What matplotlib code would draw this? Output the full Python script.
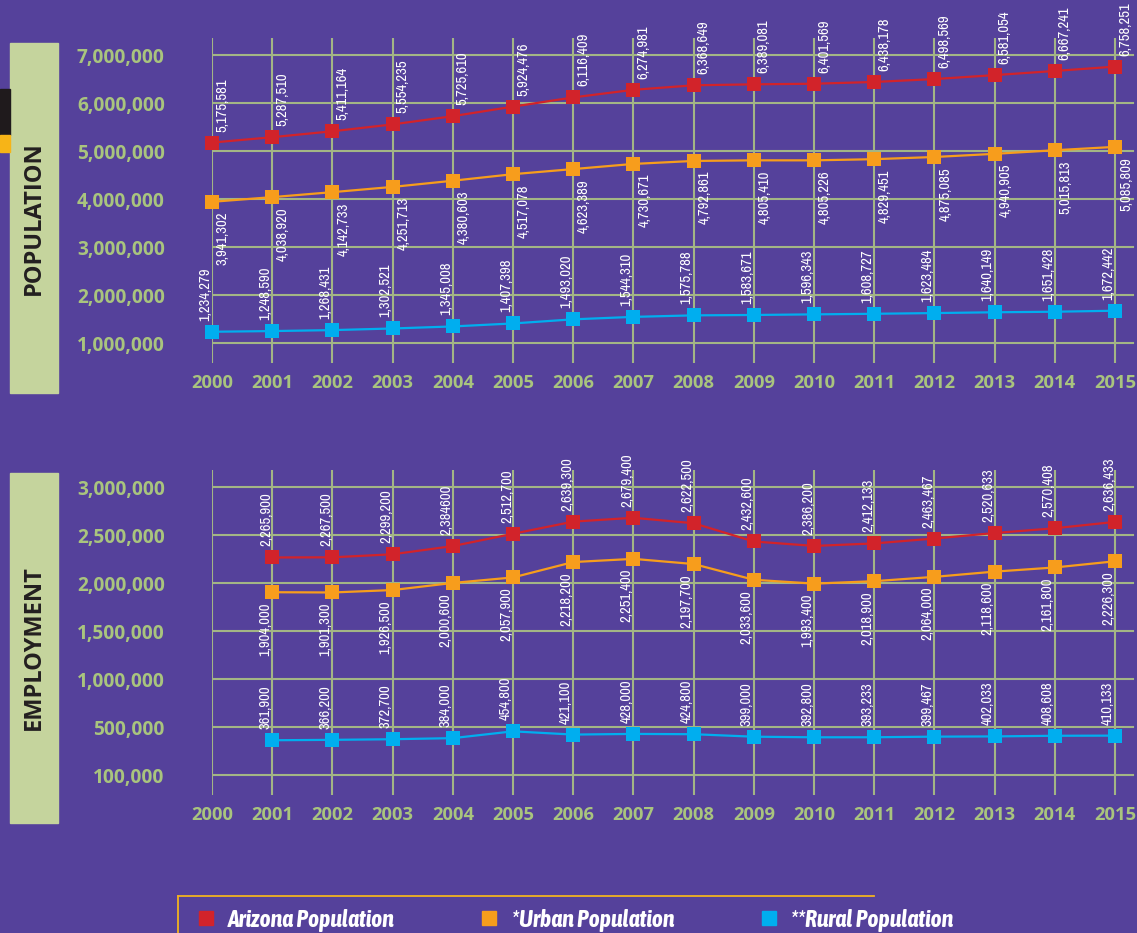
import matplotlib
matplotlib.use("Agg")
import matplotlib.pyplot as plt
from matplotlib import font_manager
from matplotlib.lines import Line2D
from matplotlib.patches import Rectangle

# ---- data ----
pop_years = list(range(2000, 2016))
pop_arizona = [5175581, 5287510, 5411164, 5554235, 5725610, 5924476, 6116409, 6274981,
               6368649, 6389081, 6401569, 6438178, 6498569, 6581054, 6667241, 6758251]
pop_urban = [3941302, 4038920, 4142733, 4251713, 4380603, 4517078, 4623389, 4730671,
             4792861, 4805410, 4805226, 4829451, 4875085, 4940905, 5015813, 5085809]
pop_rural = [1234279, 1248590, 1268431, 1302521, 1345008, 1407398, 1493020, 1544310,
             1575788, 1583671, 1596343, 1608727, 1623484, 1640149, 1651428, 1672442]
pop_ticks = [1000000, 2000000, 3000000, 4000000, 5000000, 6000000, 7000000]

emp_years = list(range(2001, 2016))
emp_arizona = [2265900, 2267500, 2299200, 2384600, 2512700, 2639300, 2679400, 2622500,
               2432600, 2386200, 2412133, 2463467, 2520633, 2570408, 2636433]
emp_urban = [1904000, 1901300, 1926500, 2000600, 2057900, 2218200, 2251400, 2197700,
             2033600, 1993400, 2018900, 2064000, 2118600, 2161800, 2226300]
emp_rural = [361900, 366200, 372700, 384000, 454800, 421100, 428000, 424800,
             399000, 392800, 393233, 399467, 402033, 408608, 410133]
emp_ticks = [0, 500000, 1000000, 1500000, 2000000, 2500000, 3000000]
emp_tick_labels = ["100,000", "500,000", "1,000,000", "1,500,000", "2,000,000",
                   "2,500,000", "3,000,000"]
emp_label_fix = {2384600: "2,384600"}  # as printed in the source

series_names = ["Arizona Population", "*Urban Population", "**Rural Population"]

# ---- style ----
BG = "#55419b"
GRID = "#a3b585"
TICK = "#a9c47e"
BOX = "#c5d49d"
COLORS = ["#d2232a", "#f79d1c", "#00aeef"]
W, H = 1137, 933
TICK_FONT = ["Open Sans", "DejaVu Sans"]

# prefer a narrow face for the value labels if one is installed
fonts = font_manager.fontManager.ttflist
narrow = sorted({f.name for f in fonts if "Narrow" in f.name or "Condensed" in f.name},
                key=lambda n: ("Narrow" not in n, n))
if narrow:
    LABEL_FONT = [narrow[0], "DejaVu Sans"]
    LABEL_SIZE = 10.5
else:
    LABEL_FONT = ["Liberation Sans", "DejaVu Sans"]
    LABEL_SIZE = 9

# legend: bold italic, narrow if such a face exists
bold_italic_narrow = [n for n in narrow
                      if any(f.name == n and f.weight in (700, "bold") and f.style == "italic"
                             for f in fonts)]
if bold_italic_narrow:
    LEGEND_FONT, LEGEND_SIZE = [bold_italic_narrow[0], "DejaVu Sans"], 17
    LEG_X, LEG_PAD, LEG_COL = 175, 0.55, 3.6
else:
    LEGEND_FONT, LEGEND_SIZE = ["Liberation Sans", "DejaVu Sans"], 13.4
    LEG_X, LEG_PAD, LEG_COL = 182, 0.75, 5.0

fig = plt.figure(figsize=(W / 100, H / 100), dpi=100)
fig.patch.set_facecolor(BG)


def px_axes(left, top, right, bottom):
    return fig.add_axes([left / W, 1 - bottom / H, (right - left) / W, (bottom - top) / H])


def setup_axes(ax, ticks, tick_labels, ylim):
    ax.set_facecolor("none")
    ax.set_xlim(2000, 2000 + 925 / 60.2)
    ax.set_ylim(*ylim)
    for s in ax.spines.values():
        s.set_visible(False)
    for y in ticks:
        ax.axhline(y, xmin=0, xmax=0.996, color=GRID, lw=1.5, zorder=1)
    for yr in pop_years:
        ax.axvline(yr, color=GRID, lw=1.5, zorder=1)
    ax.set_yticks(ticks)
    ax.set_yticklabels(tick_labels)
    ax.set_xticks(pop_years)
    ax.set_xticklabels([str(y) for y in pop_years])
    ax.tick_params(axis="y", length=0, pad=34, labelcolor=TICK, labelsize=13.8)
    ax.tick_params(axis="x", length=0, pad=8, labelcolor=TICK, labelsize=13.2)
    for t in ax.get_xticklabels() + ax.get_yticklabels():
        t.set_fontfamily(TICK_FONT)
        t.set_fontweight("bold")


def draw_series(ax, years, values, color, dx, above, fix=None):
    ax.plot(years, values, color=color, lw=1.6, marker="s", markersize=10,
            markeredgewidth=0, zorder=3, clip_on=False)
    for x, v in zip(years, values):
        txt = (fix or {}).get(v, f"{v:,}")
        ax.annotate(txt, (x, v), xytext=(dx, 11 if above else -10),
                    textcoords="offset pixels", rotation=90, ha="center",
                    va="bottom" if above else "top", color="white",
                    fontsize=LABEL_SIZE, family=LABEL_FONT, zorder=4)


# ---- population panel ----
ax1 = px_axes(212, 38, 1137, 363)
setup_axes(ax1, pop_ticks, [f"{t:,}" for t in pop_ticks],
           (1e6 - 20 / 48 * 1e6, 1e6 + 305 / 48 * 1e6))
draw_series(ax1, pop_years, pop_arizona, COLORS[0], 10, True)
draw_series(ax1, pop_years, pop_urban, COLORS[1], 11, False)
draw_series(ax1, pop_years, pop_rural, COLORS[2], -7, True)

# ---- employment panel ----
ax2 = px_axes(212, 470, 1137, 795)
setup_axes(ax2, emp_ticks, emp_tick_labels, (-20 / 48 * 5e5, 305 / 48 * 5e5))
draw_series(ax2, emp_years, emp_arizona, COLORS[0], -6, True, emp_label_fix)
draw_series(ax2, emp_years, emp_urban, COLORS[1], -7, False)
draw_series(ax2, emp_years, emp_rural, COLORS[2], -7, True)

# ---- side boxes ----
for top, bottom, title in [(43, 393, "POPULATION"), (473, 823, "EMPLOYMENT")]:
    fig.patches.append(Rectangle((10 / W, 1 - bottom / H), 48 / W, (bottom - top) / H,
                                 transform=fig.transFigure, color=BOX, zorder=0))
    fig.text(34 / W, 1 - (top + 175) / H, title, rotation=90, ha="center", va="center",
             fontsize=17, fontweight="bold", color="#231f20", family=TICK_FONT)
fig.patches.append(Rectangle((0, 1 - 135 / H), 10 / W, 46 / H, transform=fig.transFigure,
                             color="#1f1a1c", zorder=0))
fig.patches.append(Rectangle((0, 1 - 152 / H), 10 / W, 17 / H, transform=fig.transFigure,
                             color="#f7b417", zorder=0))

# ---- legend ----
fig.lines.append(Line2D([178 / W, 874 / W], [1 - 896 / H, 1 - 896 / H],
                        transform=fig.transFigure, color="#f2b21f", lw=1.3))
fig.lines.append(Line2D([178 / W, 178 / W], [1 - 896 / H, 0],
                        transform=fig.transFigure, color="#f2b21f", lw=1.3))
handles = [Line2D([], [], marker="s", ls="none", color=c, markersize=10.5) for c in COLORS]
leg = fig.legend(handles, series_names, loc="center left", ncol=3,
                 bbox_to_anchor=(LEG_X / W, 1 - 920 / H), frameon=False,
                 handlelength=0.8, handletextpad=LEG_PAD, columnspacing=LEG_COL,
                 prop={"family": LEGEND_FONT, "weight": "bold", "style": "italic",
                       "size": LEGEND_SIZE})
for t in leg.get_texts():
    t.set_color("white")

fig.savefig("out.png", dpi=100, facecolor=BG)
